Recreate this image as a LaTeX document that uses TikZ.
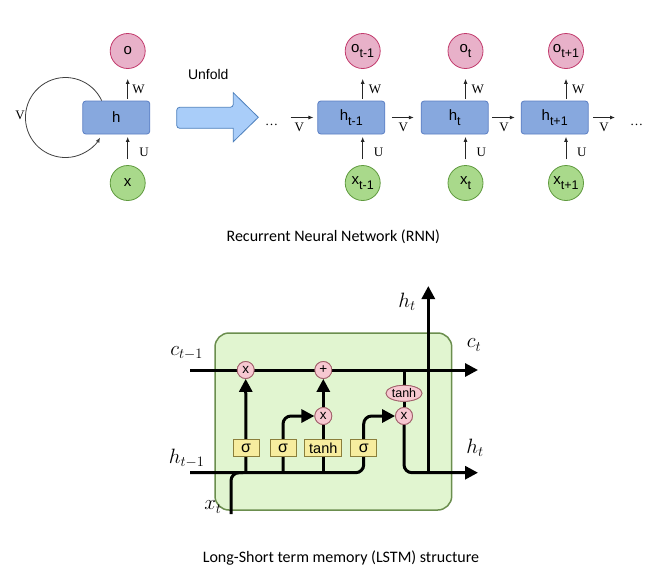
\documentclass[tikz,border=0pt]{standalone}
\usepackage{fontspec}
\setmainfont{Liberation Serif}
\newfontfamily\arialf{Liberation Sans}
\newfontfamily\calib{Carlito}
\usetikzlibrary{arrows.meta,shapes.geometric}
\definecolor{hfill}{HTML}{87A8DE}
\definecolor{hdraw}{HTML}{5B7FC4}
\definecolor{ofill}{HTML}{E8B1C9}
\definecolor{odraw}{HTML}{C23A6C}
\definecolor{xfill}{HTML}{A9D98B}
\definecolor{xdraw}{HTML}{5F9A3E}
\definecolor{ufill}{HTML}{A9CDF9}
\definecolor{udraw}{HTML}{4F81BD}
\definecolor{cellfill}{HTML}{E1F5D0}
\definecolor{celldraw}{HTML}{6B8E4E}
\definecolor{opfill}{HTML}{F7C8D1}
\definecolor{opdraw}{HTML}{A0606A}
\definecolor{gatefill}{HTML}{F7ED9F}
\definecolor{gatedraw}{HTML}{8B7F3B}
\newcommand{\sub}[1]{\raisebox{-5pt}{\fontsize{12.5}{13}\selectfont #1}}
\tikzset{
  hbox/.style={rectangle, rounded corners=3pt, fill=hfill, draw=hdraw, line width=0.8pt,
    minimum width=67pt, minimum height=33pt, inner sep=0pt, font=\arialf\fontsize{15}{16}\selectfont},
  ocirc/.style={circle, fill=ofill, draw=odraw, line width=0.8pt, minimum size=35pt, inner sep=0pt,
    font=\arialf\fontsize{15}{16}\selectfont},
  xcirc/.style={circle, fill=xfill, draw=xdraw, line width=0.8pt, minimum size=35pt, inner sep=0pt,
    font=\arialf\fontsize{15}{16}\selectfont},
  rarr/.style={draw=black!85, line width=0.8pt, -{Latex[length=5pt,width=4pt]}},
  wlab/.style={font=\fontsize{13}{14}\selectfont, inner sep=0pt},
  thk/.style={line width=3pt, draw=black},
  thkarr/.style={thk, -{Triangle[length=13pt,width=13pt]}},
  op/.style={ellipse, fill=opfill, draw=opdraw, line width=0.8pt, minimum size=17pt, inner sep=0pt,
    font=\arialf\fontsize{13.5}{14}\selectfont},
  gate/.style={rectangle, fill=gatefill, draw=gatedraw, line width=0.8pt, minimum height=17pt,
    inner sep=0pt, font=\arialf\fontsize{16}{16}\selectfont},
  mlab/.style={font=\fontsize{20.5}{24}\selectfont, inner sep=0pt},
  captxt/.style={font=\calib\fontsize{16}{18}\selectfont, inner sep=0pt}
}
\begin{document}
\begin{tikzpicture}[x=1pt,y=-1pt]
\useasboundingbox[fill=white] (0,0) rectangle (660,587);

% ---------- folded RNN ----------
\node[hbox] (h) at (116.3,117.5) {h};
\node[ocirc] (o) at (127.7,51) {o};
\node[xcirc] (x) at (127.7,183) {x};
\draw[rarr, shorten <=2pt, shorten >=10pt] (h.north -| o.south) -- (o.south);
\draw[rarr, shorten <=6pt, shorten >=2.5pt] (x.north) -- (h.south -| x.north);
\node[wlab] at (138.5,89) {W};
\node[wlab] at (144,152) {U};
\draw[draw=black!75, line width=0.8pt, -{Latex[length=5pt,width=4pt]}]
  ([xshift=-14.6pt]h.north) arc[start angle=-25, end angle=-330, radius=40];
\node[wlab] at (20,115) {V};

% ---------- unfold arrow ----------
\draw[fill=ufill, draw=udraw, line width=0.8pt, rounded corners=3pt]
  (176.7,107.3) -- (233.3,107.3) [sharp corners] -- (233.3,92.7) -- (258.3,117.3) -- (233.3,141.7)
  -- (233.3,128.3) [rounded corners=3pt] -- (176.7,128.3) -- cycle;
\node[font=\arialf\fontsize{14}{15}\selectfont] at (208.3,74.3) {Unfold};

% ---------- unfolded RNN ----------
\node[hbox] (h1) at (351.3,117.5) {h\sub{t-1}};
\node[hbox] (h2) at (454.7,117.5) {h\sub{t}};
\node[hbox] (h3) at (554.7,117.5) {h\sub{t+1}};
\node[ocirc] (o1) at (362.7,51) {o\sub{t-1}};
\node[ocirc] (o2) at (465.5,51) {o\sub{t}};
\node[ocirc] (o3) at (566,51) {o\sub{t+1}};
\node[xcirc] (x1) at (362.7,183) {x\sub{t-1}};
\node[xcirc] (x2) at (465.5,183) {x\sub{t}};
\node[xcirc] (x3) at (566,183) {x\sub{t+1}};
\foreach \i in {1,2,3}{
  \draw[rarr, shorten <=2pt, shorten >=10pt] (h\i.north -| o\i.south) -- (o\i.south);
  \draw[rarr, shorten <=6pt, shorten >=2.5pt] (x\i.north) -- (h\i.south -| x\i.north);
  \node[wlab, anchor=west] at ([xshift=6pt]o\i.south |- 0,89) {W};
  \node[wlab, anchor=west] at ([xshift=11pt]x\i.north |- 0,152) {U};
}
\node[anchor=base, font=\fontsize{13}{14}\selectfont, inner sep=0pt] (dl) at (271.7,125) {…};
\node[anchor=base, font=\fontsize{13}{14}\selectfont, inner sep=0pt] (dr) at (636.7,125) {…};
\coordinate (vl) at (290.7,117.5);
\coordinate (vr) at (615,117.5);
\draw[rarr, shorten >=4pt] (vl) -- (h1.west);
\draw[rarr, shorten <=6.7pt, shorten >=7pt] (h1.east) -- (h2.west);
\draw[rarr, shorten <=3.4pt, shorten >=6pt] (h2.east) -- (h3.west);
\draw[rarr, shorten <=4.4pt] (h3.east) -- (vr);
\node[wlab] at (299.3,127) {V};
\node[wlab] at (403.3,127) {V};
\node[wlab] at (504,127) {V};
\node[wlab] at (604,127) {V};

\node[captxt] at (333.3,237) {Recurrent Neural Network (RNN)};

% ---------- LSTM ----------
\draw[fill=cellfill, draw=celldraw, line width=1.5pt, rounded corners=14pt] (215,333) rectangle (451.7,510);

\coordinate (cin) at (190,370);
\coordinate (cout) at (478,370);
\coordinate (hin) at (190,472.7);
\coordinate (hout) at (478,472.7);
\coordinate (xin) at (231,514);
\coordinate (htop) at (428.3,286);

\node[op] (m1) at (245.7,370) {};
\node[op] (pl) at (323.3,370) {};
\node[op] (m2) at (323.3,416) {};
\node[op] (m3) at (404,416) {};
\node[op, minimum width=36pt, minimum height=16pt] (th) at (404,393.3) {};
\node[gate, minimum width=26pt] (g1) at (246,448.3) {};
\node[gate, minimum width=26pt] (g2) at (283,448.3) {};
\node[gate, minimum width=37pt] (g3) at (323.3,448.3) {};
\node[gate, minimum width=26pt] (g4) at (363.7,448.3) {};

% lines
\draw[thkarr] (cin) -- (cout);
\draw[thk, rounded corners=8pt] (hin) -- (g4.south |- hin) -- (g4.south |- m3) -- ([xshift=-6pt]m3.west);
\draw[thkarr] ([xshift=-8pt]m3.west) -- (m3.west);
\draw[thk, rounded corners=8pt] (xin) -- (xin |- hin) -- ([xshift=12pt]xin |- hin);
\draw[thkarr] (g1.south |- hin) -- (m1.south);
\draw[thk, rounded corners=8pt] (g2.south |- hin) -- (g2.south |- m2) -- ([xshift=-6pt]m2.west);
\draw[thkarr] ([xshift=-8pt]m2.west) -- (m2.west);
\draw[thk] (g3.south |- hin) -- (m2.south);
\draw[thkarr] (m2.north) -- (pl.south);
\draw[thk] (th.north |- cin) -- (th.north);
\draw[thk] (th.south) -- (m3.north);
\draw[thkarr, rounded corners=8pt] (m3.south) -- (m3.south |- hout) -- (hout);
\draw[thk] (htop |- hout) -- ([yshift=7.7pt]htop |- cin);
\draw[thkarr] ([yshift=-10.7pt]htop |- cin) -- (htop);

% nodes redrawn on top
\node[op] at (m1) {x};
\node[op] at (pl) {+};
\node[op] at (m2) {x};
\node[op] at (m3) {x};
\node[op, minimum width=36pt, minimum height=16pt, font=\arialf\fontsize{12.5}{13}\selectfont] at (th) {tanh};
\node[gate, minimum width=26pt] at (g1) {σ};
\node[gate, minimum width=26pt] at (g2) {σ};
\node[gate, minimum width=37pt, font=\arialf\fontsize{14.5}{14}\selectfont] at (g3) {tanh};
\node[gate, minimum width=26pt] at (g4) {σ};

% labels
\node[mlab] at (186.7,353) {$c_{t-1}$};
\node[mlab] at (186.7,458) {$h_{t-1}$};
\node[mlab] at (474,345) {$c_t$};
\node[mlab] at (475,448) {$h_t$};
\node[mlab] at (407,302) {$h_t$};
\node[mlab] at (213,507) {$x_t$};

\node[captxt] at (341,558) {Long-Short term memory (LSTM) structure};
\end{tikzpicture}
\end{document}
